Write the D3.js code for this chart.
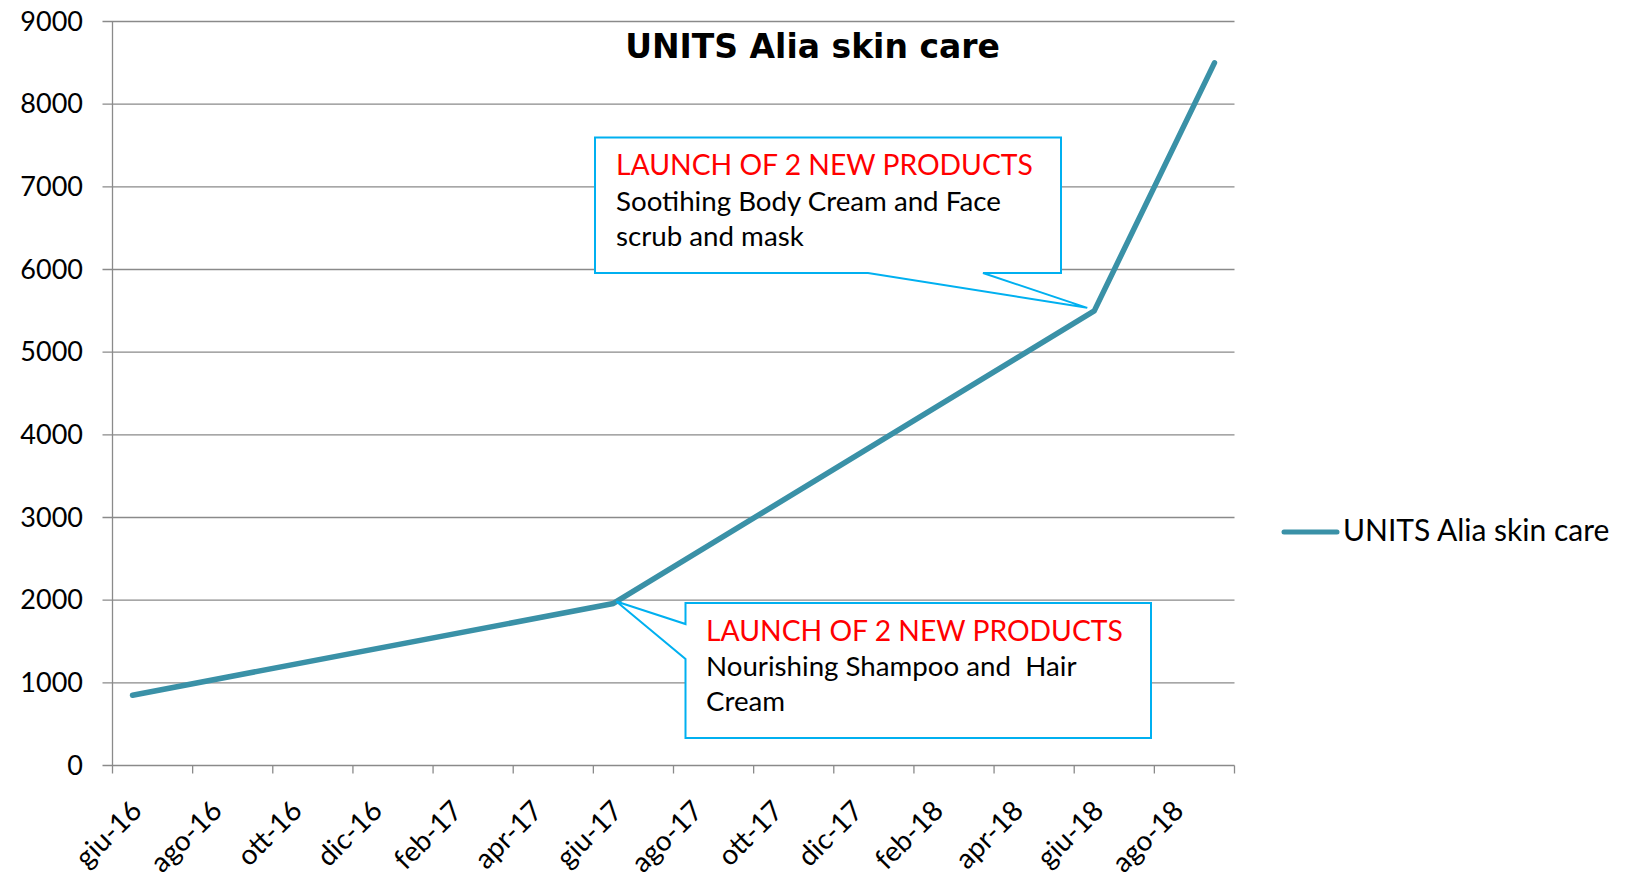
<!DOCTYPE html>
<html>
<head>
<meta charset="utf-8">
<script src="https://cdn.jsdelivr.net/npm/d3@7"></script>
<style>
  html, body { margin: 0; padding: 0; background: #ffffff; }
  svg { display: block; }
  text { font-family: Lato, "Open Sans", sans-serif; fill: #000; }
</style>
</head>
<body>
<svg id="chart" width="1632" height="881"></svg>
<script>
// ---------- data ----------
const chartTitle = "UNITS Alia skin care";
const seriesName = "UNITS Alia skin care";
const axisStart = "2016-06";           // first month on the date axis
const axisMonths = 28;                 // giu-16 .. set-18
const months = ["2016-06", "2017-06", "2018-06", "2018-09"];
const units = [850, 1960, 5500, 8500];
const yTicks = [0, 1000, 2000, 3000, 4000, 5000, 6000, 7000, 8000, 9000];
const xTickLabels = ["giu-16", "ago-16", "ott-16", "dic-16", "feb-17", "apr-17", "giu-17",
                     "ago-17", "ott-17", "dic-17", "feb-18", "apr-18", "giu-18", "ago-18"];
const callout1Title = "LAUNCH OF 2 NEW PRODUCTS";
const callout1Lines = ["Sootihing Body Cream and Face", "scrub and mask"];
const callout2Title = "LAUNCH OF 2 NEW PRODUCTS";
const callout2Lines = ["Nourishing Shampoo and  Hair", "Cream"];

// ---------- helpers ----------
function monthIndex(s) {
  const [yy, mm] = s.split("-").map(Number);
  const [y0, m0] = axisStart.split("-").map(Number);
  return (yy - y0) * 12 + (mm - m0);
}
const data = months.map((m, i) => ({ idx: monthIndex(m) + 0.5, v: units[i] }));

// ---------- scales ----------
const svg = d3.select("#chart");
const x = d3.scaleLinear().domain([0, axisMonths]).range([112.5, 1234.5]);
const y = d3.scaleLinear().domain([0, 9000]).range([765.5, 21.5]);

const gridColor = "#8a8a8a";
const lineColor = "#3a91a7";
const calloutColor = "#00b0f0";

// gridlines (with outward ticks)
svg.append("g").selectAll("line").data(yTicks).join("line")
  .attr("x1", x(0) - 10).attr("x2", x(axisMonths))
  .attr("y1", d => y(d)).attr("y2", d => y(d))
  .attr("stroke", gridColor).attr("stroke-width", 1.3);

// y axis line
svg.append("line")
  .attr("x1", x(0)).attr("x2", x(0)).attr("y1", y(9000)).attr("y2", y(0))
  .attr("stroke", gridColor).attr("stroke-width", 1.3);

// y labels
svg.append("g").selectAll("text").data(yTicks).join("text")
  .attr("x", 83).attr("y", d => y(d) + 9)
  .attr("text-anchor", "end").attr("font-size", 27)
  .text(d => d);

// x ticks
const xTickPos = d3.range(0, axisMonths + 1, 2);
svg.append("g").selectAll("line").data(xTickPos).join("line")
  .attr("x1", d => x(d)).attr("x2", d => x(d))
  .attr("y1", y(0)).attr("y2", y(0) + 8)
  .attr("stroke", gridColor).attr("stroke-width", 1.3);

// x labels
svg.append("g").selectAll("text").data(xTickLabels).join("text")
  .attr("transform", (d, i) => `translate(${x(i * 2) + 31},${y(0) + 47}) rotate(-45)`)
  .attr("text-anchor", "end").attr("font-size", 28)
  .text(d => d);

// series line
const lineGen = d3.line().x(d => x(d.idx)).y(d => y(d.v));
svg.append("path").datum(data)
  .attr("d", lineGen)
  .attr("fill", "none").attr("stroke", lineColor).attr("stroke-width", 5.5)
  .attr("stroke-linecap", "round").attr("stroke-linejoin", "round");

// callout 1 (points to June 2018)
const p1 = data[2];
const t1x = x(p1.idx) - 7, t1y = y(p1.v) - 3;
svg.append("path")
  .attr("d", `M595,137.5 H1061 V273 H983 L${t1x},${t1y} L868,273 H595 Z`)
  .attr("fill", "#fff").attr("stroke", calloutColor).attr("stroke-width", 2);
svg.append("text").attr("x", 616).attr("y", 175).attr("font-size", 28.3)
  .style("fill", "#ff0000").text(callout1Title);
callout1Lines.forEach((t, i) => {
  svg.append("text").attr("x", 616).attr("y", 210.5 + i * 35.5).attr("font-size", 27.7).text(t);
});

// callout 2 (points to June 2017)
const p2 = data[1];
const t2x = x(p2.idx) + 3, t2y = y(p2.v) - 2;
svg.append("path")
  .attr("d", `M685.5,603 H1151 V738 H685.5 V659 L${t2x},${t2y} L685.5,624 Z`)
  .attr("fill", "#fff").attr("stroke", calloutColor).attr("stroke-width", 2);
svg.append("text").attr("x", 706).attr("y", 640.5).attr("font-size", 28.3)
  .style("fill", "#ff0000").text(callout2Title);
callout2Lines.forEach((t, i) => {
  svg.append("text").attr("x", 706).attr("y", 675.5 + i * 35).attr("font-size", 27.7)
    .attr("xml:space", "preserve").style("white-space", "pre").text(t);
});

// title
svg.append("text").attr("x", 812.5).attr("y", 58).attr("text-anchor", "middle")
  .attr("font-size", 33).attr("font-weight", "bold")
  .style("font-family", "'DejaVu Sans', sans-serif")
  .text(chartTitle);

// legend
svg.append("line").attr("x1", 1284).attr("x2", 1337).attr("y1", 532).attr("y2", 532)
  .attr("stroke", lineColor).attr("stroke-width", 5).attr("stroke-linecap", "round");
svg.append("text").attr("x", 1343).attr("y", 541).attr("font-size", 30).text(seriesName);
</script>
</body>
</html>
